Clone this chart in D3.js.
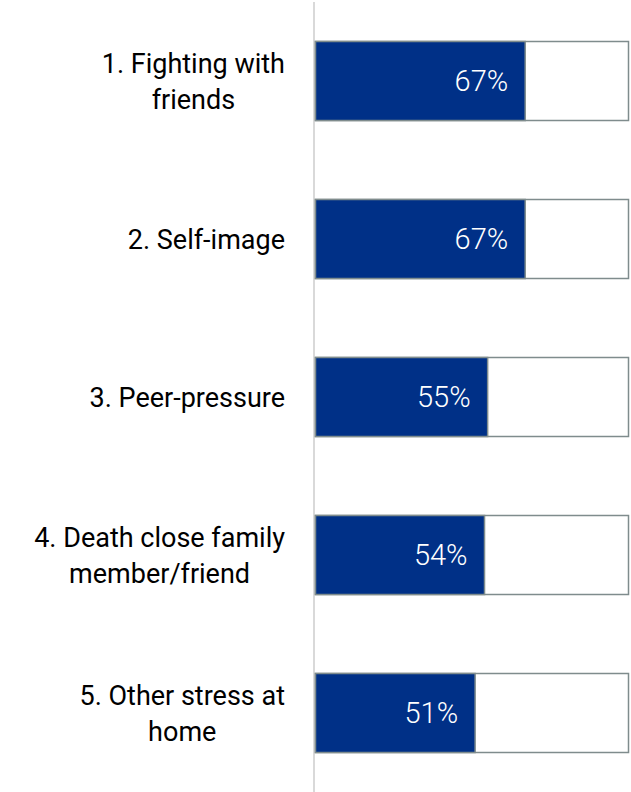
<!DOCTYPE html>
<html><head><meta charset="utf-8">
<script src="https://cdn.jsdelivr.net/npm/d3@7"></script>
<style>body{margin:0;background:#fff}svg{display:block}text{font-family:Roboto,"Open Sans",sans-serif}</style>
</head><body><svg id="c" width="631" height="792"></svg>
<script>
const categories = [["1. Fighting with","friends"],["2. Self-image"],["3. Peer-pressure"],["4. Death close family","member/friend"],["5. Other stress at","home"]];
const values = [67, 67, 55, 54, 51];
const maxValue = 100;

const svg = d3.select("#c");
const x = d3.scaleLinear().domain([0, maxValue]).range([315.5, 628.5]);
const y = d3.scaleBand().domain(d3.range(categories.length)).range([2, 792]).paddingInner(0.5).paddingOuter(0.25);

svg.append("line").attr("x1",314).attr("x2",314).attr("y1",2).attr("y2",792).attr("stroke","#d9d9d9").attr("stroke-width",2);

const g = svg.selectAll("g.bar").data(values).join("g");
g.append("rect").attr("x",x(0)).attr("y",(d,i)=>y(i)).attr("width",x(maxValue)-x(0)).attr("height",y.bandwidth())
  .attr("fill","#fff").attr("stroke","#7f8c8d").attr("stroke-width",1.5);
g.append("rect").attr("x",x(0)).attr("y",(d,i)=>y(i)).attr("width",d=>x(d)-x(0)).attr("height",y.bandwidth())
  .attr("fill","#003087").attr("stroke","#7f8c8d").attr("stroke-width",1.5);
g.append("text").attr("x",d=>x(d)-17).attr("y",(d,i)=>y(i)+y.bandwidth()/2).attr("dy","0.36em")
  .attr("text-anchor","end").attr("fill","#fff").attr("font-size",29).attr("font-weight",300).text(d=>d+"%");

const lineH = 36;
categories.forEach((lines,i)=>{
  const cy = y(i)+y.bandwidth()/2;
  const grp = svg.append("g");
  const ts = lines.map((t,j)=>grp.append("text").attr("font-size",27).attr("fill","#000")
     .attr("y", cy + (j-(lines.length-1)/2)*lineH).attr("dy","0.36em").text(t));
  const w = Math.max(...ts.map(t=>t.node().getComputedTextLength()));
  const center = 285 - w/2;
  ts.forEach(t=>t.attr("x",center).attr("text-anchor","middle"));
});
</script></body></html>
